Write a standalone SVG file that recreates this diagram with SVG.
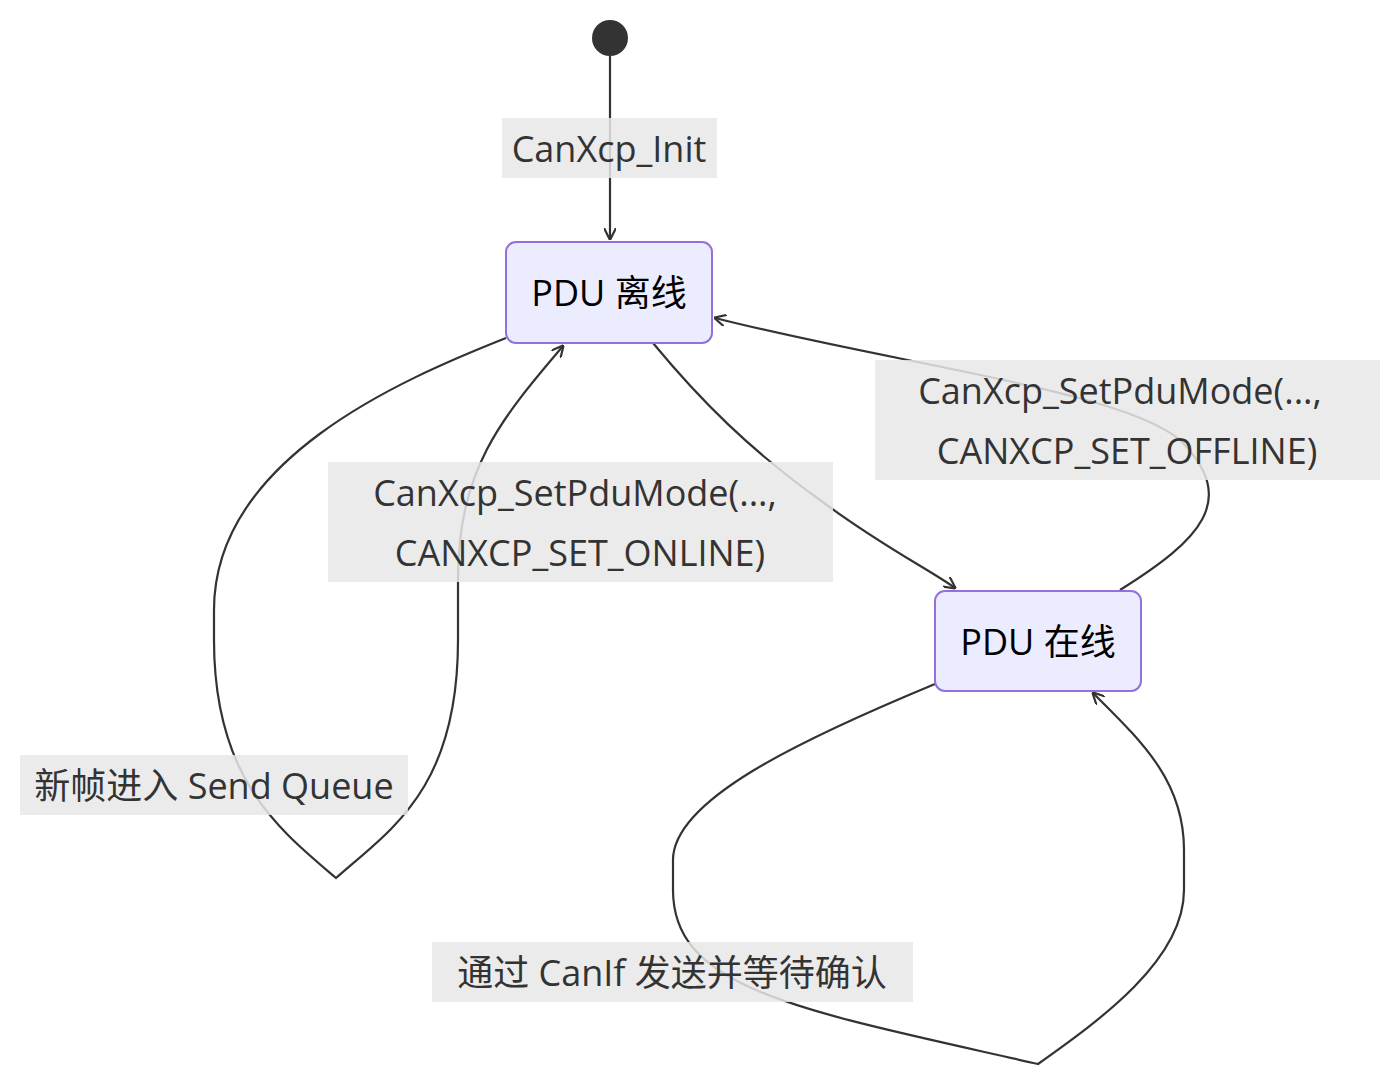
<svg xmlns="http://www.w3.org/2000/svg" width="1400" height="1086" viewBox="0 0 1400 1086">
<style>
.node rect{fill:#ECECFF;stroke:#9370DB;stroke-width:2}
.node text{font-family:"Open Sans","Noto Sans CJK SC",sans-serif;font-size:36px;fill:#000;text-anchor:middle;dominant-baseline:central}
.edge{fill:none;stroke:#333;stroke-width:2.2}
.lbl rect{fill:#E8E8E8;opacity:0.85}
.lbl text{font-family:"Open Sans","Noto Sans CJK SC",sans-serif;font-size:36px;fill:#333;text-anchor:middle;dominant-baseline:central}
</style>
<defs>
<marker id="arr" viewBox="0 0 12 12" refX="11" refY="6" markerWidth="12" markerHeight="12" markerUnits="userSpaceOnUse" orient="auto">
<path d="M0,0 L12,6 L0,12" fill="none" stroke="#333" stroke-width="2.2"/>
</marker>
</defs>
<g id="connectors">
<path class="edge" d="M610,56 L610,239" marker-end="url(#arr)"/>
<path class="edge" d="M653,343 C700,400 750,450 820,500 C880,545 930,570 955,588" marker-end="url(#arr)"/>
<path class="edge" d="M1120,590 C1200,540 1240,500 1180,440 C1120,390 900,365 715,318" marker-end="url(#arr)"/>
<path class="edge" d="M506,338 C400,380 214,460 214,610 L214,640 C214,780 280,830 336,878 C390,830 458,790 458,640 L458,580 C458,470 500,420 563,346" marker-end="url(#arr)"/>
<path class="edge" d="M935,684 C800,740 673,800 673,860 L673,890 C673,990 800,1010 1038,1064 C1100,1020 1184,960 1184,890 L1184,850 C1184,780 1140,740 1093,693" marker-end="url(#arr)"/>
</g>
<g id="start"><circle cx="610" cy="38" r="18" fill="#333"/></g>
<g id="offline" class="node"><rect x="506" y="242" width="206" height="101" rx="10"/><text x="609" y="292">PDU 离线</text></g>
<g id="online" class="node"><rect x="935" y="591" width="206" height="100" rx="10"/><text x="1038" y="641">PDU 在线</text></g>
<g class="lbl"><rect x="502" y="118" width="215" height="60"/><text x="609" y="148">CanXcp_Init</text></g>
<g class="lbl"><rect x="328" y="462" width="505" height="120"/><text x="575" y="492">CanXcp_SetPduMode(...,</text><text x="580" y="552">CANXCP_SET_ONLINE)</text></g>
<g class="lbl"><rect x="875" y="360" width="505" height="120"/><text x="1120" y="390">CanXcp_SetPduMode(...,</text><text x="1127" y="450">CANXCP_SET_OFFLINE)</text></g>
<g class="lbl"><rect x="20" y="755" width="388" height="60"/><text x="214" y="785">新帧进入 Send Queue</text></g>
<g class="lbl"><rect x="432" y="942" width="481" height="60"/><text x="672" y="972">通过 CanIf 发送并等待确认</text></g>
</svg>
